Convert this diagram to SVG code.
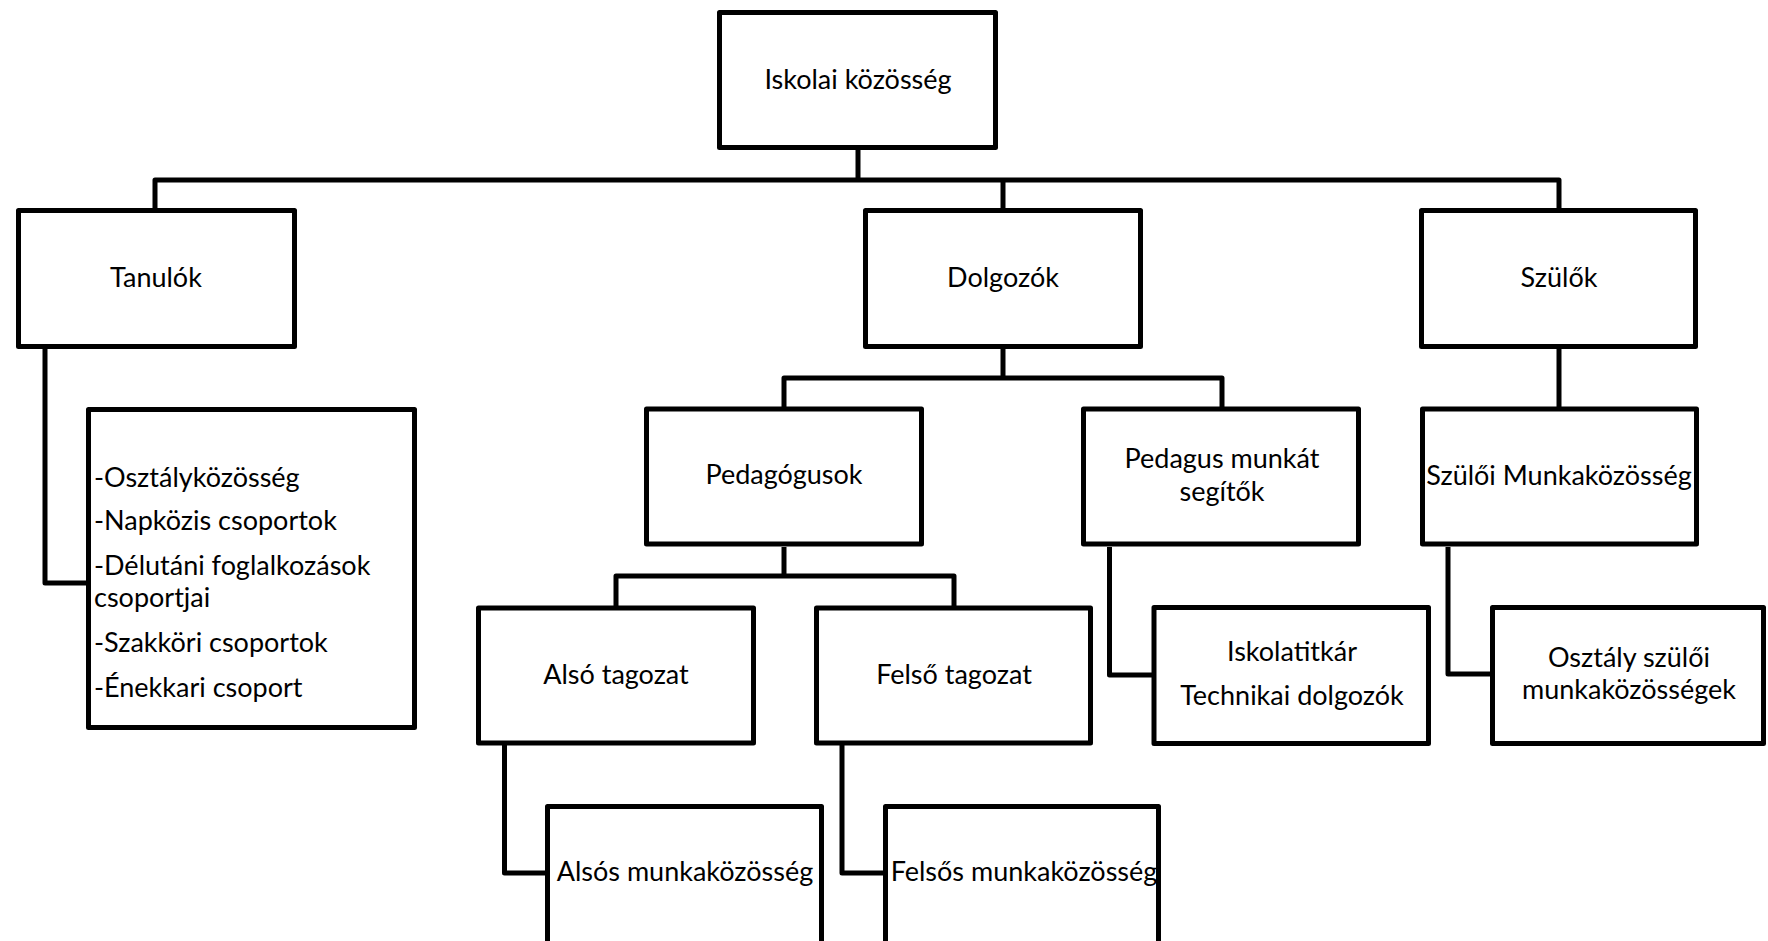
<svg xmlns="http://www.w3.org/2000/svg" width="1768" height="941" viewBox="0 0 1768 941">
<style>
.box{fill:#fff;stroke:#000;stroke-width:5;stroke-linejoin:round}
.c{fill:none;stroke:#000;stroke-width:5;stroke-linejoin:round}
text{font-family:Lato,"Open Sans","Liberation Sans",sans-serif;font-size:27px;fill:#000}
.m{text-anchor:middle}
</style>
<rect width="1768" height="941" fill="#fff"/>
<g id="connectors">
<path class="c" d="M858,150 V180"/>
<path class="c" d="M155,208 V180 H1559 V208"/>
<path class="c" d="M1003,180 V208"/>
<path class="c" d="M45,349 V583 H86"/>
<path class="c" d="M1003,349 V378"/>
<path class="c" d="M784,407 V378 H1222 V407"/>
<path class="c" d="M1559,349 V407"/>
<path class="c" d="M784,547 V576"/>
<path class="c" d="M616,606 V576 H954 V606"/>
<path class="c" d="M504.5,745 V873 H545"/>
<path class="c" d="M842,745 V873 H883"/>
<path class="c" d="M1109.5,547 V675 H1152"/>
<path class="c" d="M1448,547 V674 H1490"/>
</g>
<g id="iskolai">
<rect class="box" x="719.5" y="12.5" width="276" height="135"/>
<text class="m" x="858" y="89">Iskolai közösség</text>
</g>
<g id="tanulok">
<rect class="box" x="18.5" y="210.5" width="276" height="136"/>
<text class="m" x="156" y="287">Tanulók</text>
</g>
<g id="dolgozok">
<rect class="box" x="865.5" y="210.5" width="275" height="136"/>
<text class="m" x="1003" y="287">Dolgozók</text>
</g>
<g id="szulok">
<rect class="box" x="1421.5" y="210.5" width="274" height="136"/>
<text class="m" x="1559" y="287">Szülők</text>
</g>
<g id="tanulo-csoportok">
<rect class="box" x="88.5" y="409.5" width="326" height="318"/>
<text x="94" y="487">-Osztályközösség</text>
<text x="94" y="530">-Napközis csoportok</text>
<text x="94" y="575">-Délutáni foglalkozások</text>
<text x="94" y="607">csoportjai</text>
<text x="94" y="652">-Szakköri csoportok</text>
<text x="94" y="697">-Énekkari csoport</text>
</g>
<g id="pedagogusok">
<rect class="box" x="646.5" y="409" width="275" height="135"/>
<text class="m" x="784" y="484">Pedagógusok</text>
</g>
<g id="pedagus-segitok">
<rect class="box" x="1083.5" y="409" width="275" height="135"/>
<text class="m" x="1222" y="468">Pedagus munkát</text>
<text class="m" x="1222" y="501">segítők</text>
</g>
<g id="szuloi-mk">
<rect class="box" x="1422.5" y="409" width="274" height="135"/>
<text class="m" x="1559" y="485">Szülői Munkaközösség</text>
</g>
<g id="also-tagozat">
<rect class="box" x="478.5" y="608" width="275" height="135"/>
<text class="m" x="616" y="684">Alsó tagozat</text>
</g>
<g id="felso-tagozat">
<rect class="box" x="816.5" y="608" width="274" height="135"/>
<text class="m" x="954" y="684">Felső tagozat</text>
</g>
<g id="iskolatitkar">
<rect class="box" x="1154" y="607.5" width="274.5" height="136"/>
<text class="m" x="1292" y="661">Iskolatitkár</text>
<text class="m" x="1292" y="705">Technikai dolgozók</text>
</g>
<g id="osztaly-szuloi">
<rect class="box" x="1492.5" y="607.5" width="271" height="136"/>
<text class="m" x="1629" y="667">Osztály szülői</text>
<text class="m" x="1629" y="699">munkaközösségek</text>
</g>
<g id="alsos-mk">
<rect class="box" x="547.5" y="806.5" width="274" height="200"/>
<text class="m" x="685" y="881">Alsós munkaközösség</text>
</g>
<g id="felsos-mk">
<rect class="box" x="885.5" y="806.5" width="273" height="200"/>
<text class="m" x="1024" y="881">Felsős munkaközösség</text>
</g>
</svg>
